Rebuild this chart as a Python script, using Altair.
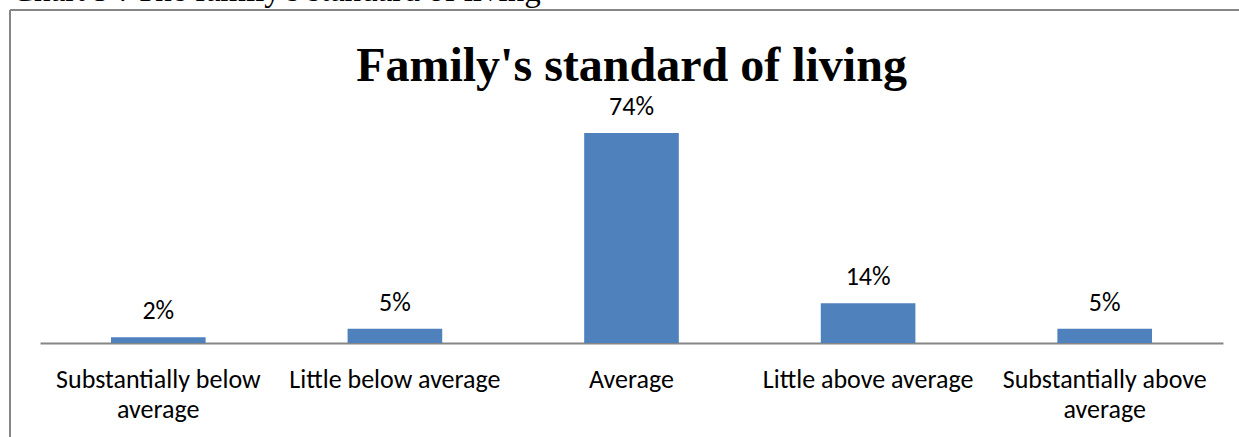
import altair as alt
import pandas as pd

categories = ["Substantially below average", "Little below average", "Average",
              "Little above average", "Substantially above average"]
values = [2, 5, 74, 14, 5]
value_labels = ["2%", "5%", "74%", "14%", "5%"]

title_text = "Family's standard of living"
caption_text = "Chart 9 : The family's standard of living"

df = pd.DataFrame({"category": categories, "value": values, "label": value_labels})
one = pd.DataFrame({"k": [0]})

SANS = "Carlito, Calibri, Lato"
SERIF = "Liberation Serif, Times New Roman, serif"

W, H = 1183, 227
PAD_L, PAD_T = 40, 116

label_expr = ("datum.label == 'Substantially below average' ? ['Substantially below', 'average'] : "
              "datum.label == 'Substantially above average' ? ['Substantially above', 'average'] : datum.label")

x_enc = alt.X("category:N", sort=categories, title=None,
              scale=alt.Scale(paddingInner=0.6, paddingOuter=0.3),
              axis=alt.Axis(labelAngle=0, labelFont=SANS, labelFontSize=26, labelColor="#000000",
                            labelPadding=23, labelLineHeight=30, labelBaseline="top", labelLimit=0,
                            labelOverlap=False,
                            ticks=False, tickSize=0, domainColor="#868686", domainWidth=2,
                            labelExpr=label_expr, grid=False))
y_enc = alt.Y("value:Q", scale=alt.Scale(domain=[0, 80]), axis=None)

bars = alt.Chart(df).mark_bar(color="#4F81BD").encode(x=x_enc, y=y_enc)

labels = alt.Chart(df).mark_text(font=SANS, fontSize=26, baseline="alphabetic", dy=-18,
                                 color="#000000").encode(
    x=alt.X("category:N", sort=categories), y="value:Q", text="label:N")

title = alt.Chart(one).mark_text(text=title_text, font=SERIF, fontSize=48, fontWeight="bold",
                                 align="center", baseline="alphabetic", color="#000000").encode(
    x=alt.value(W / 2), y=alt.value(81 - PAD_T))

caption = alt.Chart(one).mark_text(text=caption_text, font=SERIF, fontSize=33,
                                   align="left", baseline="alphabetic", color="#000000").encode(
    x=alt.value(12 - PAD_L), y=alt.value(1 - PAD_T))

border_top = alt.Chart(one).mark_rule(color="#868686", strokeWidth=2).encode(
    x=alt.value(10 - PAD_L), x2=alt.value(1260 - PAD_L), y=alt.value(10 - PAD_T))
border_left = alt.Chart(one).mark_rule(color="#868686", strokeWidth=2).encode(
    x=alt.value(10 - PAD_L), y=alt.value(10 - PAD_T), y2=alt.value(460 - PAD_T))

chart = alt.layer(bars, labels, title, caption, border_top, border_left).properties(
    width=W, height=H,
    padding={"left": PAD_L, "top": PAD_T, "right": 1239 - PAD_L - W, "bottom": 437 - PAD_T - H},
    autosize=alt.AutoSizeParams(type="none"),
    background="#ffffff",
).configure_view(stroke=None)

chart.save("out.html", embed_options={"renderer": "svg", "actions": False})
